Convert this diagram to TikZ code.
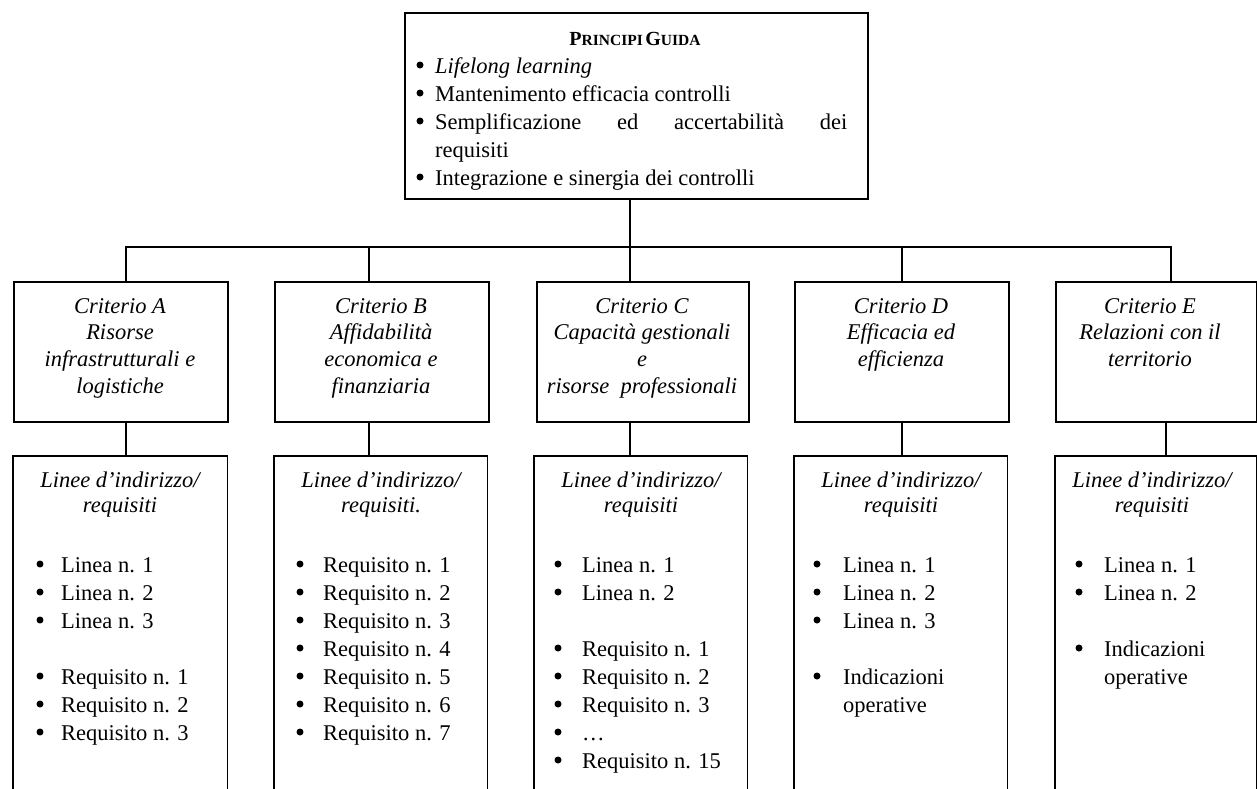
\documentclass[tikz,border=0pt]{standalone}
\usepackage{fontspec}
\setmainfont{Liberation Serif}
\begin{document}
\begin{tikzpicture}[x=1pt,y=-1pt,
  box/.style={draw, line width=1.8pt, inner sep=0pt, anchor=north west},
  openbox/.style={draw=none, inner sep=0pt, anchor=north west, minimum height=340pt},
  conn/.style={line width=1.8pt},
  txt/.style={font=\fontsize{22.5}{28}\selectfont, inner sep=0pt, anchor=base west},
  bul/.style={circle, fill=black, inner sep=0pt, minimum size=7pt},
  ctxt/.style={font=\fontsize{22.5}{27}\selectfont\itshape, inner sep=0pt, anchor=base},
]
\useasboundingbox (0,0) rectangle (1257,788);

% ---------- top box ----------
\node[box, minimum width=463pt, minimum height=186pt] (top) at (404,12) {};
\node[inner sep=0pt, anchor=base] (title) at (635,45)
  {\bfseries{\fontsize{20}{20}\selectfont P}{\fontsize{15.5}{20}\selectfont RINCIPI}
   {\fontsize{20}{20}\selectfont G}{\fontsize{15.5}{20}\selectfont UIDA}};
\node[bul] (tb1) at (420,65) {};
\node[txt] (tt1) at (435,73) {\itshape Lifelong learning};
\node[bul] (tb2) at (420,93) {};
\node[txt] (tt2) at (435,101) {Mantenimento efficacia controlli};
\node[bul] (tb3) at (420,121) {};
\node[txt] (tt3) at (435,129) {\makebox[412pt][s]{Semplificazione\hfill ed\hfill accertabilità\hfill dei}};
\node[txt] (tt3b) at (435,157) {requisiti};
\node[bul] (tb4) at (420,177) {};
\node[txt] (tt4) at (435,185) {Integrazione e sinergia dei controlli};

% ---------- criterion boxes ----------
\node[box, minimum width=214pt, minimum height=140pt] (A) at (13,281) {};
\node[box, minimum width=214pt, minimum height=140pt] (B) at (274,281) {};
\node[box, minimum width=212pt, minimum height=140pt] (C) at (536,281) {};
\node[box, minimum width=214pt, minimum height=140pt] (D) at (794,281) {};
\node[box, minimum width=201pt, minimum height=140pt] (E) at (1055,281) {};

\foreach \t [count=\i] in {Criterio A, Risorse, infrastrutturali e, logistiche}
  \node[ctxt] (cA\i) at (120,{313+26.7*(\i-1)}) {\t};
\foreach \t [count=\i] in {Criterio B, Affidabilità, economica e, finanziaria}
  \node[ctxt] (cB\i) at (381,{313+26.7*(\i-1)}) {\t};
\foreach \t [count=\i] in {Criterio C, Capacità gestionali, e, risorse\ \ professionali}
  \node[ctxt] (cC\i) at (642,{313+26.7*(\i-1)}) {\t};
\foreach \t [count=\i] in {Criterio D, Efficacia ed, efficienza}
  \node[ctxt] (cD\i) at (901,{313+26.7*(\i-1)}) {\t};
\foreach \t [count=\i] in {Criterio E, Relazioni con il, territorio}
  \node[ctxt] (cE\i) at (1150,{313+26.7*(\i-1)}) {\t};

% ---------- connectors top -> criteria ----------
\coordinate (jA) at (126,247);
\coordinate (jB) at (369,247);
\coordinate (jC) at (630,247);
\coordinate (jD) at (902,247);
\coordinate (jE) at (1171,247);
\draw[conn] (top.south -| jC) -- (jC) -- (C.north -| jC);
\draw[conn] (A.north -| jA) -- (jA) -- (jE) -- (E.north -| jE);
\draw[conn] (jB) -- (B.north -| jB);
\draw[conn] (jD) -- (D.north -| jD);

% ---------- lower open boxes ----------
\node[openbox, minimum width=214pt] (LA) at (13,456) {};
\node[openbox, minimum width=213pt] (LB) at (274,456) {};
\node[openbox, minimum width=213pt] (LC) at (534,456) {};
\node[openbox, minimum width=213pt] (LD) at (794,456) {};
\node[openbox, minimum width=201pt] (LE) at (1055,456) {};
\foreach \n in {LA,LB,LC,LD,LE}
  \draw[conn] (\n.south west) -- (\n.north west) -- (\n.north east) -- (\n.south east);

% ---------- connectors criteria -> lower boxes ----------
\coordinate (kA) at (126,440);
\coordinate (kB) at (369,440);
\coordinate (kC) at (630,440);
\coordinate (kD) at (902,440);
\coordinate (kE) at (1166,440);
\draw[conn] (A.south -| kA) -- (LA.north -| kA);
\draw[conn] (B.south -| kB) -- (LB.north -| kB);
\draw[conn] (C.south -| kC) -- (LC.north -| kC);
\draw[conn] (D.south -| kD) -- (LD.north -| kD);
\draw[conn] (E.south -| kE) -- (LE.north -| kE);

% ---------- lower headings ----------
\node[ctxt] (hA1) at (120,487) {Linee d’indirizzo/};
\node[ctxt] (hA2) at (120,512) {requisiti};
\node[ctxt] (hB1) at (381,487) {Linee d’indirizzo/};
\node[ctxt] (hB2) at (381,512) {requisiti.};
\node[ctxt] (hC1) at (641,487) {Linee d’indirizzo/};
\node[ctxt] (hC2) at (641,512) {requisiti};
\node[ctxt] (hD1) at (901,487) {Linee d’indirizzo/};
\node[ctxt] (hD2) at (901,512) {requisiti};
\node[ctxt] (hE1) at (1152,487) {Linee d’indirizzo/};
\node[ctxt] (hE2) at (1152,512) {requisiti};

% ---------- lists ----------
\foreach \y/\t [count=\i] in {572/Linea n. 1, 600/Linea n. 2, 628/Linea n. 3,
    684/Requisito n. 1, 712/Requisito n. 2, 740/Requisito n. 3} {
  \node[bul] (bA\i) at (40,{\y-8}) {};
  \node[txt] (iA\i) at (61,\y) {\t};
}
\foreach \y/\t [count=\i] in {572/Requisito n. 1, 600/Requisito n. 2, 628/Requisito n. 3,
    656/Requisito n. 4, 684/Requisito n. 5, 712/Requisito n. 6, 740/Requisito n. 7} {
  \node[bul] (bB\i) at (300,{\y-8}) {};
  \node[txt] (iB\i) at (323,\y) {\t};
}
\foreach \y/\t [count=\i] in {572/Linea n. 1, 600/Linea n. 2,
    656/Requisito n. 1, 684/Requisito n. 2, 712/Requisito n. 3, 740/\ldots, 768/Requisito n. 15} {
  \node[bul] (bC\i) at (558,{\y-8}) {};
  \node[txt] (iC\i) at (582,\y) {\t};
}
\foreach \y/\t [count=\i] in {572/Linea n. 1, 600/Linea n. 2, 628/Linea n. 3, 684/Indicazioni} {
  \node[bul] (bD\i) at (817,{\y-8}) {};
  \node[txt] (iD\i) at (843,\y) {\t};
}
\node[txt] (iD5) at (843,712) {operative};
\foreach \y/\t [count=\i] in {572/Linea n. 1, 600/Linea n. 2, 656/Indicazioni} {
  \node[bul] (bE\i) at (1079,{\y-8}) {};
  \node[txt] (iE\i) at (1104,\y) {\t};
}
\node[txt] (iE4) at (1104,684) {operative};
\end{tikzpicture}
\end{document}
